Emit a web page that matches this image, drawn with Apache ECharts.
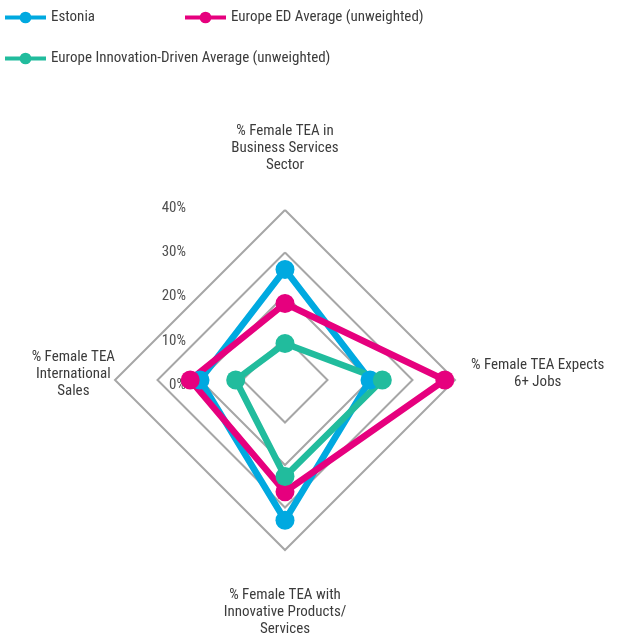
<!DOCTYPE html>
<html><head><meta charset="utf-8">
<script src="https://cdn.jsdelivr.net/npm/echarts@6/dist/echarts.min.js"></script>
<style>html,body{margin:0;padding:0;background:#fff}#c{width:618px;height:637px}</style>
</head><body><div id="c"></div>
<script>
// ---- data ----
const indicatorNames = [
  '% Female TEA in\nBusiness Services\nSector',
  '% Female TEA\nInternational\nSales',
  '% Female TEA with\nInnovative Products/\nServices',
  '% Female TEA Expects\n6+ Jobs'
];
const seriesNames = [
  'Estonia',
  'Europe ED Average (unweighted)',
  'Europe Innovation-Driven Average (unweighted)'
];
const estonia = [26, 20, 33, 20];
const europeED = [18, 22.3, 26.3, 37.6];
const europeInnovation = [8.6, 11.6, 22.7, 22.9];
const tickValues = [0, 10, 20, 30, 40];

// ---- style ----
const FONT = '"Roboto Condensed", "DejaVu Sans Condensed", sans-serif';
const FS = 15;
const TEXT = '#3C3C3C';
const colors = ['#00A9E0', '#E6007E', '#21BC9D'];
const legendIcon = 'path://M0,4 L42,4 L42,8 L0,8 Z M15,6 A6,6 0 1,1 27,6 A6,6 0 1,1 15,6 Z';

const chart = echarts.init(document.getElementById('c'));
const legendCommon = {
  itemWidth: 41, itemHeight: 12, itemGap: 0, padding: 0, icon: legendIcon,
  selectedMode: false,
  textStyle: { fontFamily: FONT, fontSize: FS, color: TEXT }
};
const tok = (l) => '{t|' + l + '}';
const option = {
  animation: false,
  legend: [
    Object.assign({ data: [seriesNames[0]], left: 5, top: 10 }, legendCommon),
    Object.assign({ data: [seriesNames[1]], left: 185, top: 10 }, legendCommon),
    Object.assign({ data: [seriesNames[2]], left: 5, top: 51 }, legendCommon)
  ],
  grid: { left: 194, top: 208, height: 177, width: 10 },
  xAxis: { type: 'value', show: false },
  yAxis: {
    type: 'value', min: tickValues[0], max: tickValues[tickValues.length - 1], interval: 10,
    axisLine: { show: false }, axisTick: { show: false }, splitLine: { show: false },
    axisLabel: { formatter: '{value}%', fontFamily: FONT, fontSize: FS, color: '#505050', margin: 8 }
  },
  radar: {
    center: [285, 380], radius: 170, startAngle: 90, shape: 'polygon', splitNumber: 4,
    indicator: indicatorNames.map(n => ({ name: n, min: 0, max: tickValues[tickValues.length - 1] })),
    axisLine: { show: false }, axisTick: { show: false }, axisLabel: { show: false },
    splitArea: { show: false },
    splitLine: { lineStyle: { color: '#A6A6A6', width: 2 } },
    nameGap: 0,
    axisName: {
      color: TEXT, fontFamily: FONT, fontSize: FS,
      formatter: function (name) {
        const i = indicatorNames.indexOf(name);
        const lines = name.split('\n');
        if (i === 0) return lines.map(tok).join('\n') + '\n{gapTop| }';
        if (i === 2) return '{gapBottom| }\n' + lines.map(tok).join('\n');
        if (i === 1) return lines.map(tok).join('\n') + '\n{gapSide| }';
        return lines.map(l => '{sp| }' + tok(l)).join('\n') + '\n{gapSide| }';
      },
      rich: {
        t: { lineHeight: 17, align: 'center', color: TEXT, fontFamily: FONT, fontSize: FS },
        gapTop: { lineHeight: 36, fontSize: 2 },
        gapBottom: { lineHeight: 37, fontSize: 2 },
        gapSide: { lineHeight: 12, fontSize: 2 },
        sp: { width: 16, fontSize: 2 }
      }
    }
  },
  series: [{
    type: 'radar',
    symbol: 'circle', symbolSize: 19,
    emphasis: { disabled: true },
    data: [
      { name: seriesNames[0], value: estonia, itemStyle: { color: colors[0] }, lineStyle: { color: colors[0], width: 6.5 } },
      { name: seriesNames[1], value: europeED, itemStyle: { color: colors[1] }, lineStyle: { color: colors[1], width: 6.5 } },
      { name: seriesNames[2], value: europeInnovation, itemStyle: { color: colors[2] }, lineStyle: { color: colors[2], width: 6.5 } }
    ]
  }]
};
chart.setOption(option);
</script>
</body></html>
